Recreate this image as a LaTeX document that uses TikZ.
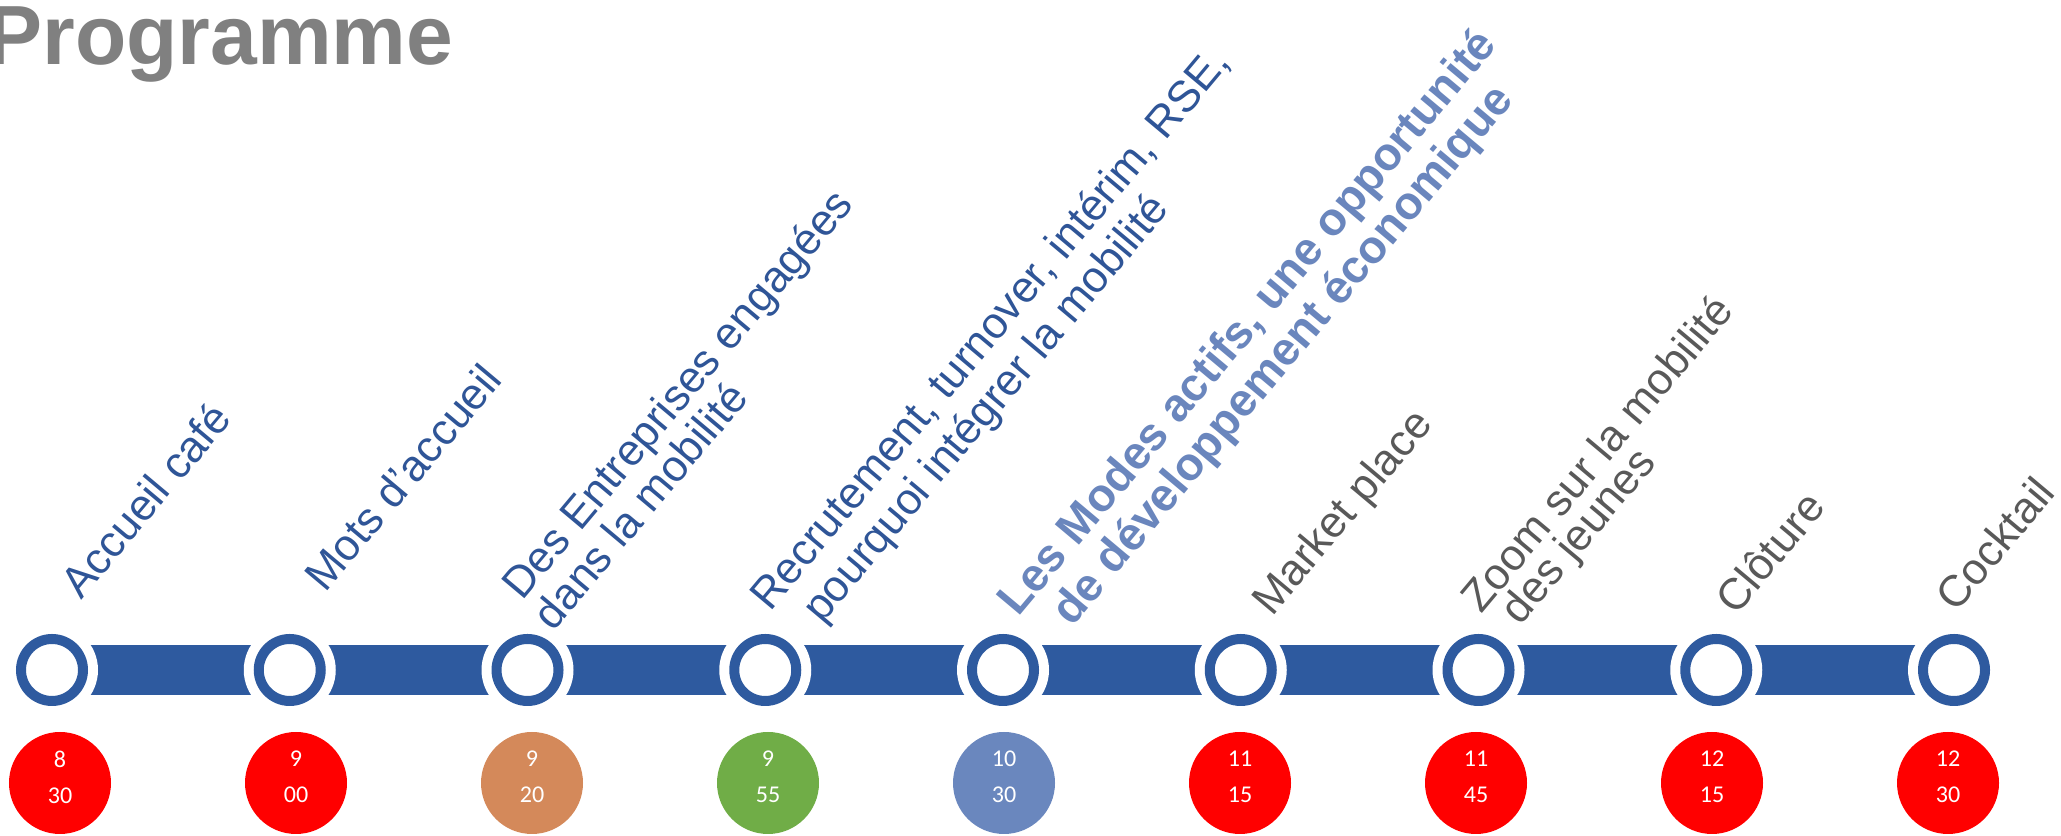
\documentclass[tikz,border=0pt]{standalone}
\usepackage{fontspec}
\setmainfont{Liberation Sans}
\newfontfamily\timefont{Carlito}
\usetikzlibrary{calc}
\definecolor{lineblue}{HTML}{2E5A9F}
\definecolor{talkblue}{HTML}{2F5597}
\definecolor{paleblue}{HTML}{6A86BD}
\definecolor{talkgray}{HTML}{595959}
\definecolor{titlegray}{HTML}{808080}
\definecolor{slotred}{HTML}{FF0000}
\definecolor{slottan}{HTML}{D4895A}
\definecolor{slotgreen}{HTML}{70AD47}
\definecolor{slotblue}{HTML}{6A87BE}
\tikzset{
	ring/.style={draw=lineblue, line width=0.2cm, fill=white},
	topic/.style={rotate=50, anchor=base west, inner sep=0pt, text=talkblue, font=\fontsize{25}{30}\selectfont},
	hour/.style={align=center, inner sep=0pt, text=white, font=\timefont\fontsize{13.7}{20.5}\selectfont},
}

\begin{document}
\begin{tikzpicture}
			%%%%% START %%%%%
			\useasboundingbox (0, 0) rectangle (41.22, 16.72);
			
			\node[anchor=base west, inner sep=0pt, text=titlegray, font=\bfseries\fontsize{47.8}{50}\selectfont] (title) at (-0.28, 15.42) {Programme};
			
			\coordinate (s1) at (1.04, 3.32);
			\coordinate (s2) at (5.795, 3.32);
			\coordinate (s3) at (10.55, 3.32);
			\coordinate (s4) at (15.305, 3.32);
			\coordinate (s5) at (20.06, 3.32);
			\coordinate (s6) at (24.815, 3.32);
			\coordinate (s7) at (29.57, 3.32);
			\coordinate (s8) at (34.325, 3.32);
			\coordinate (s9) at (39.08, 3.32);
			
			\fill[lineblue] ($(s1)+(0, 0.5)$) rectangle ($(s2)+(0, -0.5)$);
			\fill[lineblue] ($(s2)+(0, 0.5)$) rectangle ($(s3)+(0, -0.5)$);
			\fill[lineblue] ($(s3)+(0, 0.5)$) rectangle ($(s4)+(0, -0.5)$);
			\fill[lineblue] ($(s4)+(0, 0.5)$) rectangle ($(s5)+(0, -0.5)$);
			\fill[lineblue] ($(s5)+(0, 0.5)$) rectangle ($(s6)+(0, -0.5)$);
			\fill[lineblue] ($(s6)+(0, 0.5)$) rectangle ($(s7)+(0, -0.5)$);
			\fill[lineblue] ($(s7)+(0, 0.5)$) rectangle ($(s8)+(0, -0.5)$);
			\fill[lineblue] ($(s8)+(0, 0.5)$) rectangle ($(s9)+(0, -0.5)$);
			
			\fill[white] (s1) circle (0.92);
			\fill[white] (s2) circle (0.92);
			\fill[white] (s3) circle (0.92);
			\fill[white] (s4) circle (0.92);
			\fill[white] (s5) circle (0.92);
			\fill[white] (s6) circle (0.92);
			\fill[white] (s7) circle (0.92);
			\fill[white] (s8) circle (0.92);
			\fill[white] (s9) circle (0.92);
			
			\draw[ring] (s1) circle (0.62);
			\draw[ring] (s2) circle (0.62);
			\draw[ring] (s3) circle (0.62);
			\draw[ring] (s4) circle (0.62);
			\draw[ring] (s5) circle (0.62);
			\draw[ring] (s6) circle (0.62);
			\draw[ring] (s7) circle (0.62);
			\draw[ring] (s8) circle (0.62);
			\draw[ring] (s9) circle (0.62);
			
			\node[topic] (t1) at (1.62, 4.70) {Accueil café};
			\node[topic] (t2) at (6.50, 4.84) {Mots d’accueil};
			\node[topic] (t3a) at (10.44, 4.68) {Des Entreprises engagées};
			\node[topic] (t3b) at (11.07, 4.07) {dans la mobilité};
			\node[topic] (t4a) at (15.40, 4.46) {Recrutement, turnover, intérim, RSE,};
			\node[topic] (t4b) at (16.44, 4.22) {pourquoi intégrer la mobilité};
			\node[topic, text=paleblue, font=\bfseries\fontsize{26.2}{30}\selectfont] (t5a) at (20.36, 4.36) {Les Modes actifs, une opportunité};
			\node[topic, text=paleblue, font=\bfseries\fontsize{26.2}{30}\selectfont] (t5b) at (21.44, 4.16) {de développement économique};
			\node[topic, text=talkgray] (t6) at (25.44, 4.36) {Market place};
			\node[topic, text=talkgray] (t7a) at (29.62, 4.42) {Zoom sur la mobilité};
			\node[topic, text=talkgray] (t7b) at (30.41, 4.19) {des jeunes};
			\node[topic, text=talkgray] (t8) at (34.72, 4.38) {Clôture};
			\node[topic, text=talkgray] (t9) at (39.12, 4.44) {Cocktail};
			
			\fill[slotred] (1.20, 1.06) circle (1.02);
			\fill[slotred] (5.92, 1.06) circle (1.02);
			\fill[slottan] (10.64, 1.06) circle (1.02);
			\fill[slotgreen] (15.36, 1.06) circle (1.02);
			\fill[slotblue] (20.08, 1.06) circle (1.02);
			\fill[slotred] (24.80, 1.06) circle (1.02);
			\fill[slotred] (29.52, 1.06) circle (1.02);
			\fill[slotred] (34.24, 1.06) circle (1.02);
			\fill[slotred] (38.96, 1.06) circle (1.02);
			
			\node[hour] (h1) at (1.20, 1.18) {8\\30};
			\node[hour] (h2) at (5.92, 1.18) {9\\00};
			\node[hour] (h3) at (10.64, 1.18) {9\\20};
			\node[hour] (h4) at (15.36, 1.18) {9\\55};
			\node[hour] (h5) at (20.08, 1.18) {10\\30};
			\node[hour] (h6) at (24.80, 1.18) {11\\15};
			\node[hour] (h7) at (29.52, 1.18) {11\\45};
			\node[hour] (h8) at (34.24, 1.18) {12\\15};
			\node[hour] (h9) at (38.96, 1.18) {12\\30};
			
			%%%%% END %%%%%
\end{tikzpicture}
\end{document}
